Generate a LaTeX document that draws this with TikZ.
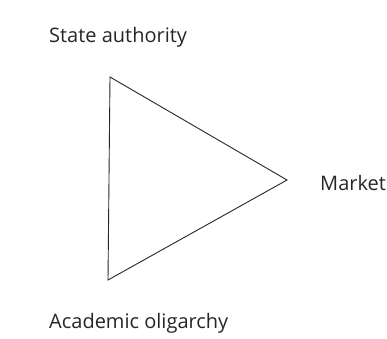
\documentclass[tikz,border=0pt]{standalone}
\usepackage{fontspec}
\setmainfont{Open Sans}
\begin{document}
\begin{tikzpicture}[x=1pt,y=-1pt,
  lbl/.style={font=\fontsize{20}{22}\selectfont, text=black!85, inner sep=0pt, anchor=base west},
  edge/.style={draw=black!85, line width=0.9pt, line join=miter}]
\useasboundingbox (0,0) rectangle (387,338);
\coordinate (sa) at (110,77);
\coordinate (mk) at (287,180);
\coordinate (ao) at (108,280);
\draw[edge] (sa) -- (mk) -- (ao) -- cycle;
\node[lbl] (tsa) at (49,42) {State authority};
\node[lbl] (tmk) at (320,190) {Market};
\node[lbl] (tao) at (49,328) {Academic oligarchy};
\end{tikzpicture}
\end{document}
